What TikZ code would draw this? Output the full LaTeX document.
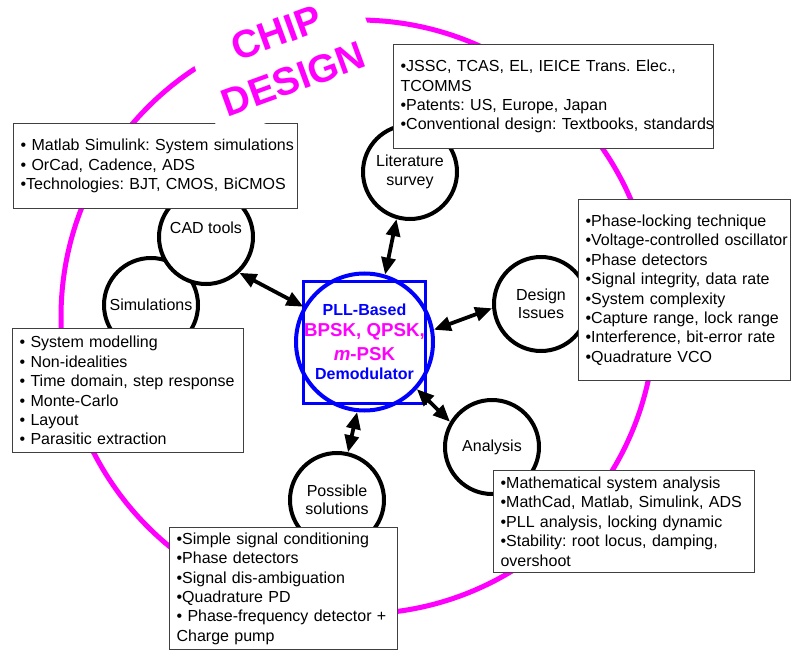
\documentclass[tikz,border=0pt]{standalone}
\usepackage{fontspec}
\setmainfont{Liberation Sans}
\usetikzlibrary{arrows.meta}
\definecolor{chipmag}{RGB}{255,0,255}
\definecolor{pllblue}{RGB}{0,0,255}
\newcommand\boxline[1]{\mbox{#1}}
\frenchspacing

\begin{document}
\begin{tikzpicture}[x=1pt,y=-1pt,
  font=\fontsize{16}{19.4}\selectfont,
  topic/.style={circle, draw=black, line width=4pt, fill=white, minimum size=94pt,
    inner sep=0pt, align=center, font=\fontsize{16}{18.5}\selectfont},
  infobox/.style={draw=black!75, line width=1.2pt, fill=white, align=left,
    anchor=north west, inner xsep=7pt, inner ysep=0pt},
  link/.style={line width=3.8pt,
    {Triangle[length=17pt,width=14pt]}-{Triangle[length=17pt,width=14pt]}},
]
\useasboundingbox (0,0) rectangle (796,650);

% outer design ring
\draw[chipmag, line width=5pt] (358,317) circle[radius=297];

% topic circles
\node[topic] (lit) at (410,172) {Literature\\survey};
\node[topic] (sim) at (151,305) {Simulations};
\node[topic, label={[yshift=9pt]center:CAD tools}] (cad) at (206,237) {};
\node[topic] (des) at (541,304) {Design\\Issues};
\node[topic] (ana) at (492,447) {Analysis};
\node[topic] (pos) at (337,500) {Possible\\solutions};

% detail boxes
\node[infobox, text width=270pt, minimum height=85pt] (cadbox) at (13,123) {%
\boxline{• Matlab Simulink: System simulations}\\
\boxline{• OrCad, Cadence, ADS}\\
\boxline{•Technologies: BJT, CMOS, BiCMOS}};

\node[infobox, text width=306pt, minimum height=104pt] (litbox) at (393,44) {%
\boxline{•JSSC, TCAS, EL, IEICE Trans. Elec.,}\\
\boxline{TCOMMS}\\
\boxline{•Patents: US, Europe, Japan}\\
\boxline{•Conventional design: Textbooks, standards}};

\node[infobox, text width=198pt, minimum height=181pt] (desbox) at (578,199) {%
\boxline{•Phase-locking technique}\\
\boxline{•Voltage-controlled oscillator}\\
\boxline{•Phase detectors}\\
\boxline{•Signal integrity, data rate}\\
\boxline{•System complexity}\\
\boxline{•Capture range, lock range}\\
\boxline{•Interference, bit-error rate}\\
\boxline{•Quadrature VCO}};

\node[infobox, text width=217pt, minimum height=124pt] (simbox) at (12,328) {%
\boxline{• System modelling}\\
\boxline{• Non-idealities}\\
\boxline{• Time domain, step response}\\
\boxline{• Monte-Carlo}\\
\boxline{• Layout}\\
\boxline{• Parasitic extraction}};

\node[infobox, text width=247pt, minimum height=102pt] (anabox) at (493,470) {%
\boxline{•Mathematical system analysis}\\
\boxline{•MathCad, Matlab, Simulink, ADS}\\
\boxline{•PLL analysis, locking dynamic}\\
\boxline{•Stability: root locus, damping,}\\
\boxline{overshoot}};

\node[infobox, text width=214pt, minimum height=122pt] (posbox) at (169,527) {%
\boxline{•Simple signal conditioning}\\
\boxline{•Phase detectors}\\
\boxline{•Signal dis-ambiguation}\\
\boxline{•Quadrature PD}\\
\boxline{• Phase-frequency detector +}\\
\boxline{Charge pump}};

% central block
\node[draw=pllblue, line width=3pt, fill=white, minimum size=122pt, inner sep=0pt] (sq) at (364.5,342) {};
\node[circle, draw=pllblue, line width=4pt, minimum size=137pt, inner sep=0pt] (pll) at (364.5,342) {};
\node[align=center, text=pllblue, font=\bfseries\fontsize{16}{19}\selectfont] (plltext) at (pll.center)
  {PLL-Based\\[2pt]
   {\fontsize{18.7}{19}\selectfont\color{chipmag}BPSK, QPSK,}\\[5pt]
   {\fontsize{18.7}{19}\selectfont\color{chipmag}\textit{m}-PSK}\\
   Demodulator};

% connectors
\draw[link] (lit.254.5) -- (pll.73.6);
\draw[link] (cad.313.5) -- (pll.150.8);
\draw[link] (des.185) -- (pll.10.7);
\draw[link] (ana.149) -- (pll.318);
\draw[link] (pos.77) -- (pll.264);

% title
\node[fill=white, rotate=20, minimum width=177pt, minimum height=113pt, inner sep=0pt,
  align=center, text=chipmag, font=\bfseries\fontsize{39}{49}\selectfont] (chip) at (285,56)
  {CHIP\\DESIGN};
\end{tikzpicture}
\end{document}
